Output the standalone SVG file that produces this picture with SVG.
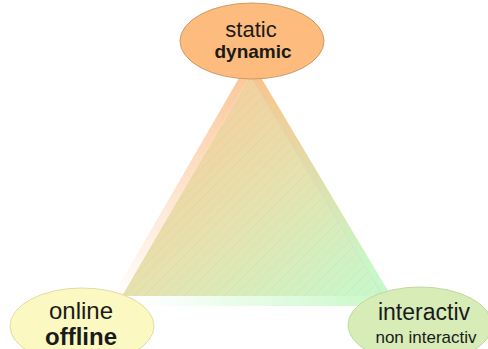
<svg xmlns="http://www.w3.org/2000/svg" width="488" height="349" viewBox="0 0 488 349">
<defs>
<style>
.lbl{font-family:"Liberation Sans",Arial,sans-serif;fill:#1a1a1a;text-anchor:middle}
.b{font-weight:bold}
</style>
<linearGradient id="gFront" gradientUnits="userSpaceOnUse" x1="200" y1="80" x2="360" y2="296">
<stop offset="0" stop-color="#f6cc9a"/>
<stop offset="0.5" stop-color="#e6e2ae"/>
<stop offset="1" stop-color="#c9f7c9"/>
</linearGradient>
<linearGradient id="gLeft" gradientUnits="userSpaceOnUse" x1="0" y1="70" x2="0" y2="300">
<stop offset="0" stop-color="#fcc698"/>
<stop offset="1" stop-color="#ffffff"/>
</linearGradient>
<linearGradient id="gRight" gradientUnits="userSpaceOnUse" x1="0" y1="76" x2="0" y2="270">
<stop offset="0" stop-color="#f9c48c"/>
<stop offset="1" stop-color="#c7f8c7"/>
</linearGradient>
<linearGradient id="gBottom" gradientUnits="userSpaceOnUse" x1="140" y1="0" x2="390" y2="0">
<stop offset="0" stop-color="#ffffff"/>
<stop offset="1" stop-color="#c8f8c8"/>
</linearGradient>
<pattern id="hatch" patternUnits="userSpaceOnUse" width="10" height="10">
<path d="M0,10 L10,0 M-1,1 L1,-1 M9,11 L11,9" stroke="#98a8b8" stroke-opacity="0.2" stroke-width="0.6" fill="none"/>
</pattern>
</defs>

<g id="pyramid">
<polygon points="250,59 107,306 122,296 250,76" fill="url(#gLeft)"/>
<polygon points="250,59 250,76 383,296 397,306" fill="url(#gRight)"/>
<polygon points="107,306 122,296 383,296 397,306" fill="url(#gBottom)"/>
<polygon points="250,76 122,296 383,296" fill="url(#gFront)"/>
<polygon points="250,76 122,296 383,296" fill="url(#hatch)"/>
<line x1="250" y1="76" x2="383" y2="296" stroke="#b8b0c0" stroke-opacity="0.3" stroke-width="0.8"/>
</g>

<g id="connectors"></g>

<g id="node-static">
<ellipse cx="252" cy="41" rx="72" ry="38" fill="#fdbc7d" stroke="#cf9a66" stroke-width="1"/>
<text class="lbl" x="251" y="37" font-size="22">static</text>
<text class="lbl b" x="253" y="58" font-size="19">dynamic</text>
</g>

<g id="node-online">
<ellipse cx="82" cy="326" rx="72" ry="38" fill="#fbf9c1" stroke="#e0dca4" stroke-width="1"/>
<text class="lbl" x="81" y="319" font-size="24">online</text>
<text class="lbl b" x="81" y="345" font-size="24">offline</text>
</g>

<g id="node-interactiv">
<ellipse cx="420" cy="325" rx="72" ry="38" fill="#d7ecb7" stroke="#c2d9a2" stroke-width="1"/>
<text class="lbl" x="424" y="320" font-size="23">interactiv</text>
<text class="lbl" x="426" y="343" font-size="17">non interactiv</text>
</g>
</svg>
